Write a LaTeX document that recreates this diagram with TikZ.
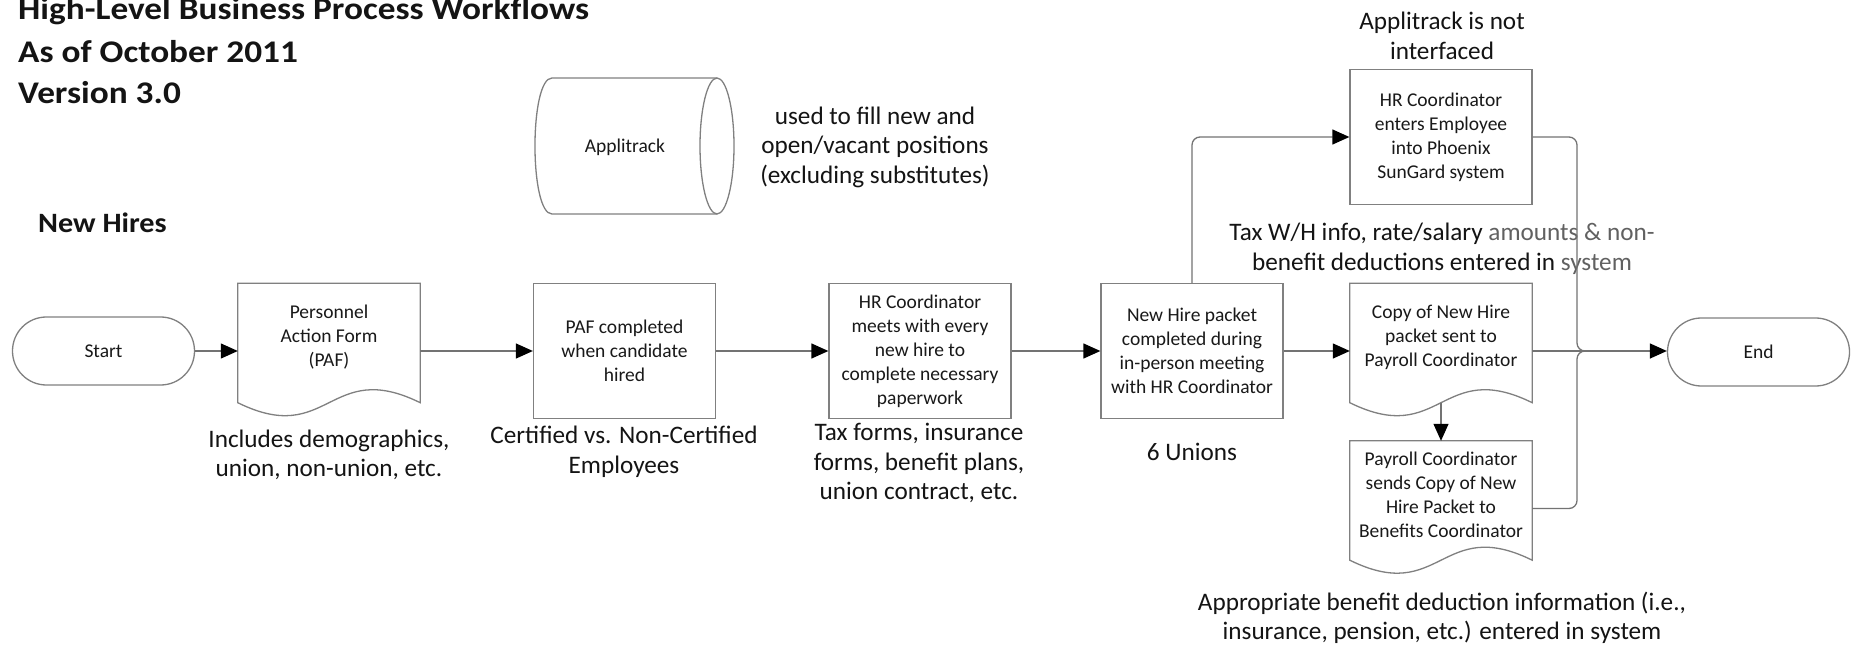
\documentclass[tikz,border=0pt]{standalone}
\usepackage{fontspec}
\setmainfont{Carlito}
\newfontfamily\headfont[FakeStretch=1.12]{Carlito}
\newfontfamily\sectionfont[FakeStretch=1.08]{Carlito}
\usetikzlibrary{arrows.meta,calc}

% outline of a document symbol with a wavy bottom edge, drawn around a node
\newcommand\docoutline[1]{%
  \draw[outline] (#1.north west) -- ($(#1.south west)+(0,-16)$)
    .. controls ($(#1.south)+(0,29)$) and ($(#1.south)+(0,-61)$) ..
    ($(#1.south east)+(0,-16)$) -- (#1.north east) -- cycle;}

\definecolor{edgegray}{gray}{0.5}
\definecolor{linkgray}{gray}{0.45}
\definecolor{fade}{gray}{0.38}

\begin{document}
\begin{tikzpicture}[x=1pt,y=-1pt,
  outline/.style={draw=edgegray, line width=1.3pt},
  boxfont/.style={font=\fontsize{19.5}{24}\selectfont, align=center, text=black!90},
  procbox/.style={outline, boxfont, rectangle, minimum width=182pt, minimum height=135pt, inner sep=0pt},
  docshape/.style={rectangle, minimum width=182pt, minimum height=135pt, inner sep=0pt},
  doctext/.style={boxfont, inner sep=0pt},
  term/.style={outline, boxfont, rectangle, rounded corners=33.9pt, minimum width=182pt, minimum height=68pt, inner sep=0pt},
  note/.style={font=\fontsize{25.2}{29.5}\selectfont, align=center, text=black!92, inner sep=0pt},
  heading/.style={font=\headfont\fontsize{31.5}{42}\selectfont\bfseries, text=black!92, inner sep=0pt, anchor=base west},
  link/.style={draw=linkgray, line width=1.3pt},
  arr/.style={link, -{Triangle[length=17pt,width=15pt,color=black]}}]

\path[fill=white, use as bounding box] (0,0) rectangle (1858,647);

% headings
\node[heading] (title1) at (18,20) {High-Level Business Process Workflows};
\node[heading] (title2) at (18,62.5) {As of October 2011};
\node[heading] (title3) at (18,103.5) {Version 3.0};
\node[heading, font=\sectionfont\fontsize{28}{34}\selectfont\bfseries] (section) at (38,233) {New Hires};

% Applitrack data store (horizontal cylinder)
\node[boxfont, inner sep=0pt] (applitrack) at (625,147) {Applitrack};
\draw[outline] (717,78) -- (552,78) .. controls (529.3,78) and (529.3,214) .. (552,214) -- (717,214);
\draw[outline] (717,146) ellipse[x radius=17pt, y radius=68pt];

% main flow
\node[term] (start) at (103.5,351) {Start};
\node[docshape] (paf) at (329,351) {};
\docoutline{paf}
\node[doctext] (paftext) at ($(paf)+(0,-14)$) {Personnel\\Action Form\\(PAF)};
\node[procbox] (pafdone) at (624.5,351) {PAF completed\\when candidate\\hired};
\node[procbox] (meet) at (920,351) {HR Coordinator\\meets with every\\new hire to\\complete necessary\\paperwork};
\node[procbox] (packet) at (1192,351) {New Hire packet\\completed during\\in-person meeting\\with HR Coordinator};
\node[procbox] (enter) at (1441,137) {HR Coordinator\\enters Employee\\into Phoenix\\SunGard system};
\node[docshape] (copy) at (1441,351) {};
\docoutline{copy}
\node[doctext] (copytext) at ($(copy)+(0,-14)$) {Copy of New Hire\\packet sent to\\Payroll Coordinator};
\node[docshape] (payroll) at (1441,508.5) {};
\docoutline{payroll}
\node[doctext] (payrolltext) at ($(payroll)+(0,-14)$) {Payroll Coordinator\\sends Copy of New\\Hire Packet to\\Benefits Coordinator};
\node[term] (end) at (1758.5,352) {End};

% annotations
\node[note] (usednote) at (875,147) {used to fill new and\\open/vacant positions\\(excluding substitutes)};
\node[note] (pafnote) at (329,455) {Includes demographics,\\union, non-union, etc.};
\node[note] (certnote) at (624,452) {Certified vs. Non-Certified\\Employees};
\node[note] (formsnote) at (919,463) {Tax forms, insurance\\forms, benefit plans,\\union contract, etc.};
\node[note] (unionnote) at (1192,452) {6 Unions};
\node[note] (ifacenote) at (1442,36) {Applitrack is not\\interfaced};
\node[note] (taxnote) at (1442,249) {Tax W/H info, rate/salary {\color{fade}amounts \& non-}\\benefit deductions entered in {\color{fade}system}};
\node[note] (benefitnote) at (1442,618) {Appropriate benefit deduction information (i.e.,\\insurance, pension, etc.) entered in system};

% connectors
\draw[arr] (start) -- (paf);
\draw[arr] (paf) -- (pafdone);
\draw[arr] (pafdone) -- (meet);
\draw[arr] (meet) -- (packet);
\draw[arr] (packet) -- (copy);
\draw[arr] (copy) -- (copy -| end.west);
\draw[arr, rounded corners=8pt] (packet.north) |- (enter.west);
\draw[arr] ($(copy.south)+(0,-16)$) -- (payroll.north);

% both branches join the line into End
\coordinate (merge) at (1577,351);
\draw[link, rounded corners=8pt] (enter.east) -| (merge) -- ($(merge)+(26,0)$);
\draw[link, rounded corners=8pt] (payroll.east) -| (merge) -- ($(merge)+(26,0)$);
\end{tikzpicture}
\end{document}
